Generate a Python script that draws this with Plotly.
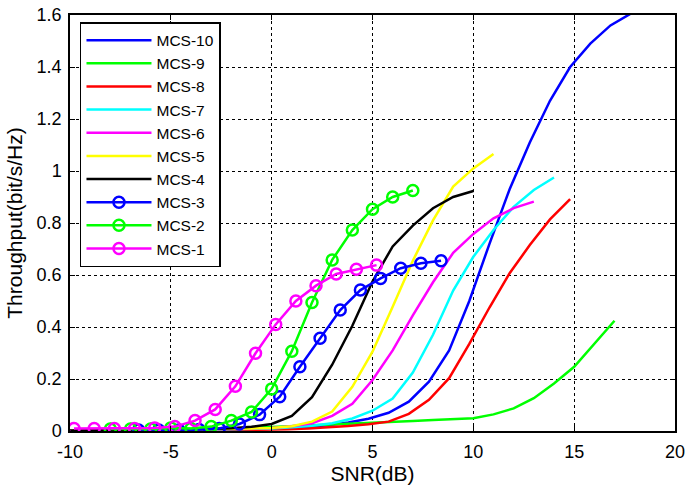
import plotly.graph_objects as go

# ---- data ----
x_mcs10 = [-9.2, -8.2, -7.2, -6.2, -5.2, -4.2, -3.2, -2.2, -1.2, -0.2, 0.8, 1.8, 2.8, 3.8, 4.8,
           5.8, 6.8, 7.8, 8.8, 9.8, 10.8, 11.8, 12.8, 13.8, 14.8, 15.8, 16.8, 17.8]
y_mcs10 = [0.001, 0.001, 0.001, 0.002, 0.002, 0.003, 0.004, 0.005, 0.006, 0.008, 0.011, 0.015, 0.022, 0.033, 0.047,
           0.07, 0.113, 0.19, 0.31, 0.50, 0.72, 0.93, 1.11, 1.27, 1.40, 1.49, 1.56, 1.605]

x_mcs9 = [-10, -9, -8, -7, -6, -5, -4, -3, -2, -1, 0, 1, 2, 3, 4, 5, 6, 7, 8, 9, 10, 11, 12, 13, 14, 15, 16, 17]
y_mcs9 = [0.002, 0.003, 0.004, 0.005, 0.006, 0.007, 0.008, 0.009, 0.010, 0.012, 0.015, 0.018, 0.021, 0.024, 0.027,
          0.030, 0.034, 0.038, 0.042, 0.045, 0.049, 0.064, 0.087, 0.126, 0.183, 0.247, 0.337, 0.424]

x_mcs8 = [-9.2, -8.2, -7.2, -6.2, -5.2, -4.2, -3.2, -2.2, -1.2, -0.2, 0.8, 1.8, 2.8, 3.8, 4.8,
          5.8, 6.8, 7.8, 8.8, 9.8, 10.8, 11.8, 12.8, 13.8, 14.8]
y_mcs8 = [0.001, 0.001, 0.001, 0.002, 0.002, 0.002, 0.003, 0.003, 0.004, 0.005, 0.007, 0.010, 0.014, 0.019, 0.026,
          0.036, 0.066, 0.12, 0.203, 0.335, 0.475, 0.607, 0.715, 0.814, 0.892]

x_mcs7 = [-10, -9, -8, -7, -6, -5, -4, -3, -2, -1, 0, 1, 2, 3, 4, 5, 6, 7, 8, 9, 10, 11, 12, 13, 14]
y_mcs7 = [0.001, 0.001, 0.002, 0.002, 0.003, 0.003, 0.004, 0.005, 0.006, 0.008, 0.010, 0.014, 0.020, 0.030, 0.048,
          0.078, 0.125, 0.225, 0.37, 0.54, 0.67, 0.773, 0.862, 0.927, 0.975]

x_mcs6 = [-10, -9, -8, -7, -6, -5, -4, -3, -2, -1, 0, 1, 2, 3, 4, 5, 6, 7, 8, 9, 10, 11, 12, 13]
y_mcs6 = [0.001, 0.001, 0.002, 0.002, 0.003, 0.004, 0.005, 0.006, 0.008, 0.010, 0.012, 0.018, 0.030, 0.058, 0.105,
          0.196, 0.31, 0.445, 0.572, 0.685, 0.758, 0.818, 0.857, 0.882]

x_mcs5 = [-10, -9, -8, -7, -6, -5, -4, -3, -2, -1, 0, 1, 2, 3, 4, 5, 6, 7, 8, 9, 10, 11]
y_mcs5 = [0.001, 0.002, 0.002, 0.003, 0.003, 0.004, 0.005, 0.006, 0.008, 0.010, 0.012, 0.018, 0.036, 0.075, 0.17,
          0.305, 0.478, 0.655, 0.81, 0.94, 1.01, 1.065]

x_mcs4 = [-10, -9, -8, -7, -6, -5, -4, -3, -2, -1, 0, 1, 2, 3, 4, 5, 6, 7, 8, 9, 10]
y_mcs4 = [0.002, 0.002, 0.003, 0.003, 0.004, 0.005, 0.006, 0.008, 0.011, 0.016, 0.027, 0.058, 0.13, 0.255, 0.405,
          0.575, 0.71, 0.79, 0.857, 0.90, 0.923]

x_mcs3 = [-6.6, -5.6, -4.6, -3.6, -2.6, -1.6, -0.6, 0.4, 1.4, 2.4, 3.4, 4.4, 5.4, 6.4, 7.4, 8.4]
y_mcs3 = [0.004, 0.004, 0.004, 0.006, 0.010, 0.027, 0.063, 0.132, 0.247, 0.357, 0.465, 0.542, 0.587, 0.626, 0.645, 0.655]

x_mcs2 = [-8, -7, -6, -5, -4, -3, -2, -1, 0, 1, 2, 3, 4, 5, 6, 7]
y_mcs2 = [0.008, 0.008, 0.008, 0.012, 0.010, 0.017, 0.040, 0.073, 0.162, 0.307, 0.494, 0.658, 0.773, 0.853, 0.900, 0.925]

x_mcs1 = [-9.8, -8.8, -7.8, -6.8, -5.8, -4.8, -3.8, -2.8, -1.8, -0.8, 0.2, 1.2, 2.2, 3.2, 4.2, 5.2]
y_mcs1 = [0.010, 0.010, 0.010, 0.010, 0.012, 0.017, 0.040, 0.083, 0.172, 0.299, 0.410, 0.500, 0.559, 0.604, 0.622, 0.638]

x_ticks = [-10, -5, 0, 5, 10, 15, 20]
x_tick_text = ["-10", "-5", "0", "5", "10", "15", "20"]
y_ticks = [0, 0.2, 0.4, 0.6, 0.8, 1.0, 1.2, 1.4, 1.6]
y_tick_text = ["0", "0.2", "0.4", "0.6", "0.8", "1", "1.2", "1.4", "1.6"]

series = [
    ("MCS-10", x_mcs10, y_mcs10, "#0000FF", False),
    ("MCS-9", x_mcs9, y_mcs9, "#00FF00", False),
    ("MCS-8", x_mcs8, y_mcs8, "#FF0000", False),
    ("MCS-7", x_mcs7, y_mcs7, "#00FFFF", False),
    ("MCS-6", x_mcs6, y_mcs6, "#FF00FF", False),
    ("MCS-5", x_mcs5, y_mcs5, "#FFFF00", False),
    ("MCS-4", x_mcs4, y_mcs4, "#000000", False),
    ("MCS-3", x_mcs3, y_mcs3, "#0000FF", True),
    ("MCS-2", x_mcs2, y_mcs2, "#00FF00", True),
    ("MCS-1", x_mcs1, y_mcs1, "#FF00FF", True),
]

fig = go.Figure()
for name, xs, ys, color, marked in series:
    fig.add_trace(go.Scatter(
        x=xs, y=ys, name=name,
        mode="lines+markers" if marked else "lines",
        line=dict(color=color, width=2.5),
        marker=dict(symbol="circle-open", size=11, color=color, line=dict(width=2.5, color=color)),
    ))

font_family = "Liberation Sans, Arial, sans-serif"
axis_common = dict(
    showline=True, linecolor="black", linewidth=1.5, mirror="ticks",
    ticks="inside", ticklen=5, tickwidth=1, tickcolor="black",
    showgrid=True, gridcolor="black", gridwidth=1, griddash="dot",
    zeroline=False, automargin=False, ticklabeloverflow="allow",
    tickfont=dict(family=font_family, size=18, color="black"),
)

fig.update_layout(
    width=685, height=489,
    margin=dict(l=70, r=10, t=15, b=58),
    paper_bgcolor="white", plot_bgcolor="white",
    font=dict(family=font_family, color="black"),
    showlegend=True,
    legend=dict(
        x=0.0165, y=0.983, xanchor="left", yanchor="top",
        bgcolor="white", bordercolor="black", borderwidth=1.5,
        font=dict(family=font_family, size=15.5, color="black"),
        tracegroupgap=0, itemwidth=65,
    ),
    xaxis=dict(axis_common, range=[-10, 20], tickvals=x_ticks, ticktext=x_tick_text,
               ticklabelstandoff=4,
               title=dict(text="SNR(dB)", font=dict(family=font_family, size=21), standoff=5)),
    yaxis=dict(axis_common, range=[0, 1.6], tickvals=y_ticks, ticktext=y_tick_text,
               ticklabelstandoff=3,
               title=dict(text="Throughput(bit/s/Hz)", font=dict(family=font_family, size=21), standoff=8)),
)

fig.write_html("out.html")
